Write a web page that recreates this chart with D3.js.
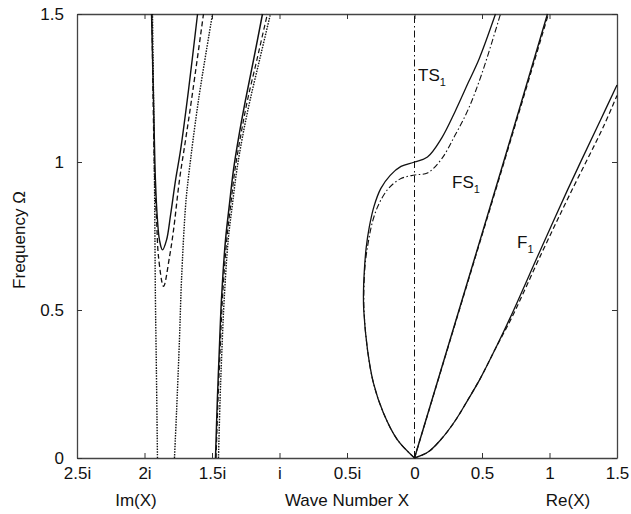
<!DOCTYPE html>
<html>
<head>
<meta charset="utf-8">
<script src="https://cdn.jsdelivr.net/npm/d3@7"></script>
<style>
  body { margin: 0; background: #fff; }
  text { font-family: "Liberation Sans", Arial, sans-serif; fill: #111; }
</style>
</head>
<body>
<div id="chart"></div>
<script>
// Axis ticks (negative wave numbers are drawn as imaginary values)
const xTickValues = [-2.5, -2, -1.5, -1, -0.5, 0, 0.5, 1, 1.5];
const xTickLabels = ['2.5i', '2i', '1.5i', 'i', '0.5i', '0', '0.5', '1', '1.5'];
const yTickValues = [0, 0.5, 1, 1.5];
const yTickLabels = ['0', '0.5', '1', '1.5'];

// Curves as [wave number, frequency] pairs
const vSolid = [[-1.948, 1.5], [-1.933, 1.209], [-1.919, 0.939], [-1.904, 0.804], [-1.889, 0.736],
  [-1.867, 0.703], [-1.837, 0.736], [-1.807, 0.821], [-1.770, 0.939], [-1.733, 1.04],
  [-1.674, 1.243], [-1.607, 1.5]];
const vDashed = [[-1.945, 1.5], [-1.925, 0.95], [-1.91, 0.8], [-1.896, 0.679], [-1.859, 0.58],
  [-1.815, 0.679], [-1.785, 0.77], [-1.741, 0.939], [-1.696, 1.074], [-1.652, 1.209], [-1.563, 1.5]];
const vDottedLeft = [[-1.904, 0], [-1.912, 0.3], [-1.919, 0.534], [-1.926, 0.939], [-1.941, 1.5]];
const vDottedRight = [[-1.778, 0], [-1.763, 0.152], [-1.741, 0.4], [-1.726, 0.6], [-1.696, 0.85],
  [-1.674, 0.95], [-1.6, 1.209], [-1.496, 1.5]];

const bSolid = [[-1.474, 0], [-1.46, 0.2], [-1.447, 0.35], [-1.43, 0.534], [-1.4, 0.736],
  [-1.37, 0.86], [-1.341, 0.973], [-1.3, 1.09], [-1.252, 1.209], [-1.19, 1.35], [-1.126, 1.5]];
const bDashed = [[-1.47, 0], [-1.455, 0.2], [-1.441, 0.35], [-1.423, 0.534], [-1.391, 0.736],
  [-1.36, 0.86], [-1.33, 0.973], [-1.287, 1.09], [-1.237, 1.209], [-1.165, 1.35], [-1.09, 1.5]];
const bDotted = [[-1.452, 0], [-1.44, 0.2], [-1.428, 0.35], [-1.41, 0.534], [-1.38, 0.736],
  [-1.348, 0.86], [-1.316, 0.973], [-1.272, 1.09], [-1.218, 1.209], [-1.145, 1.35], [-1.067, 1.5]];

const ts1Solid = [[0, 0], [-0.126, 0.061], [-0.23, 0.152], [-0.304, 0.253], [-0.348, 0.365],
  [-0.376, 0.5], [-0.378, 0.56], [-0.372, 0.63], [-0.358, 0.71], [-0.335, 0.78], [-0.3, 0.85],
  [-0.25, 0.91], [-0.18, 0.955], [-0.1, 0.985], [0, 1.0], [0.096, 1.017], [0.2, 1.08],
  [0.3, 1.17], [0.4, 1.27], [0.48, 1.35], [0.6, 1.5]];
const ts1Dashed = [[0, 0], [-0.126, 0.061], [-0.23, 0.152], [-0.304, 0.253], [-0.348, 0.365],
  [-0.374, 0.5], [-0.374, 0.58], [-0.364, 0.66], [-0.342, 0.73], [-0.31, 0.8], [-0.262, 0.86],
  [-0.19, 0.912], [-0.1, 0.944], [0, 0.956], [0.096, 0.963], [0.2, 1.01], [0.3, 1.09],
  [0.4, 1.18], [0.5, 1.3], [0.637, 1.5]];

const fs1Solid = [[0, 0], [0.33, 0.5], [0.66, 1.0], [0.985, 1.5]];
const fs1Dashed = [[0, 0], [0.332, 0.5], [0.664, 1.0], [0.992, 1.5]];

const f1Solid = [[0, 0], [0.1, 0.02], [0.193, 0.061], [0.3, 0.125], [0.4, 0.2], [0.489, 0.27],
  [0.6, 0.37], [0.711, 0.476], [0.933, 0.703], [1.133, 0.905], [1.378, 1.142], [1.5, 1.26]];
const f1Dashed = [[0, 0], [0.1, 0.02], [0.193, 0.061], [0.3, 0.125], [0.4, 0.2], [0.489, 0.27],
  [0.6, 0.37], [0.72, 0.474], [0.95, 0.7], [1.15, 0.89], [1.4, 1.12], [1.5, 1.225]];

const zeroLine = [[0, 0], [0, 1.5]];

const width = 631;
const height = 514;

const x = d3.scaleLinear().domain([-2.5, 1.5]).range([77, 617]);
const y = d3.scaleLinear().domain([0, 1.5]).range([458, 14]);

const svg = d3.select('#chart').append('svg')
  .attr('width', width)
  .attr('height', height);

// Frame with inward ticks on all four sides
svg.append('g')
  .attr('transform', 'translate(0,' + y(0) + ')')
  .call(d3.axisBottom(x).tickValues(xTickValues)
    .tickFormat((d, i) => xTickLabels[i])
    .tickSizeInner(-5).tickSizeOuter(0).tickPadding(9));
svg.append('g')
  .attr('transform', 'translate(0,' + y(1.5) + ')')
  .call(d3.axisTop(x).tickValues(xTickValues).tickFormat('')
    .tickSizeInner(-5).tickSizeOuter(0));
svg.append('g')
  .attr('transform', 'translate(' + x(-2.5) + ',0)')
  .call(d3.axisLeft(y).tickValues(yTickValues)
    .tickFormat((d, i) => yTickLabels[i])
    .tickSizeInner(-5).tickSizeOuter(0).tickPadding(13));
svg.append('g')
  .attr('transform', 'translate(' + x(1.5) + ',0)')
  .call(d3.axisRight(y).tickValues(yTickValues).tickFormat('')
    .tickSizeInner(-5).tickSizeOuter(0));

svg.selectAll('.domain').attr('stroke', '#444').attr('stroke-width', 1.3);
svg.selectAll('.tick line').attr('stroke', '#333');
svg.selectAll('.tick text')
  .style('font-size', '17px')
  .style('font-family', '"Liberation Sans", Arial, sans-serif')
  .attr('fill', '#111');

const line = d3.line()
  .x(d => x(d[0]))
  .y(d => y(d[1]))
  .curve(d3.curveCatmullRom.alpha(0.5));

const curves = [
  { data: zeroLine, dash: '7,3,1.5,3', w: 1 },
  { data: vDottedLeft, dash: '1.5,1.2', w: 1.4 },
  { data: vDottedRight, dash: '1.5,1.2', w: 1.4 },
  { data: vDashed, dash: '5,3', w: 1.3 },
  { data: vSolid, dash: null, w: 1.4 },
  { data: bDotted, dash: '1.5,1.2', w: 1.4 },
  { data: bDashed, dash: '5,3', w: 1.2 },
  { data: bSolid, dash: null, w: 1.5 },
  { data: ts1Dashed, dash: '6,2.5,1.5,2.5', w: 1.1 },
  { data: ts1Solid, dash: null, w: 1.3 },
  { data: fs1Dashed, dash: '5,3', w: 1.2 },
  { data: fs1Solid, dash: null, w: 1.4 },
  { data: f1Dashed, dash: '5,3', w: 1.2 },
  { data: f1Solid, dash: null, w: 1.3 }
];

svg.append('g')
  .selectAll('path')
  .data(curves)
  .join('path')
    .attr('d', d => line(d.data))
    .attr('fill', 'none')
    .attr('stroke', '#111')
    .attr('stroke-width', d => d.w)
    .attr('stroke-dasharray', d => d.dash);

// Curve names with subscripts
const names = [
  { t: 'TS', x: 418, y: 81 },
  { t: 'FS', x: 452, y: 188 },
  { t: 'F', x: 517, y: 248 }
];
names.forEach(n => {
  const t = svg.append('text')
    .attr('x', n.x)
    .attr('y', n.y)
    .style('font-size', '17px');
  t.append('tspan').text(n.t);
  t.append('tspan').attr('dy', 5).style('font-size', '11px').text('1');
});

// Axis titles
svg.append('text')
  .attr('x', 136).attr('y', 506)
  .attr('text-anchor', 'middle')
  .style('font-size', '17px')
  .text('Im(X)');
svg.append('text')
  .attr('x', 347).attr('y', 506)
  .attr('text-anchor', 'middle')
  .style('font-size', '17px')
  .text('Wave Number X');
svg.append('text')
  .attr('x', 568).attr('y', 506)
  .attr('text-anchor', 'middle')
  .style('font-size', '17px')
  .text('Re(X)');
svg.append('text')
  .attr('transform', 'translate(25,240) rotate(-90)')
  .attr('text-anchor', 'middle')
  .style('font-size', '17px')
  .text('Frequency Ω');
</script>
</body>
</html>
